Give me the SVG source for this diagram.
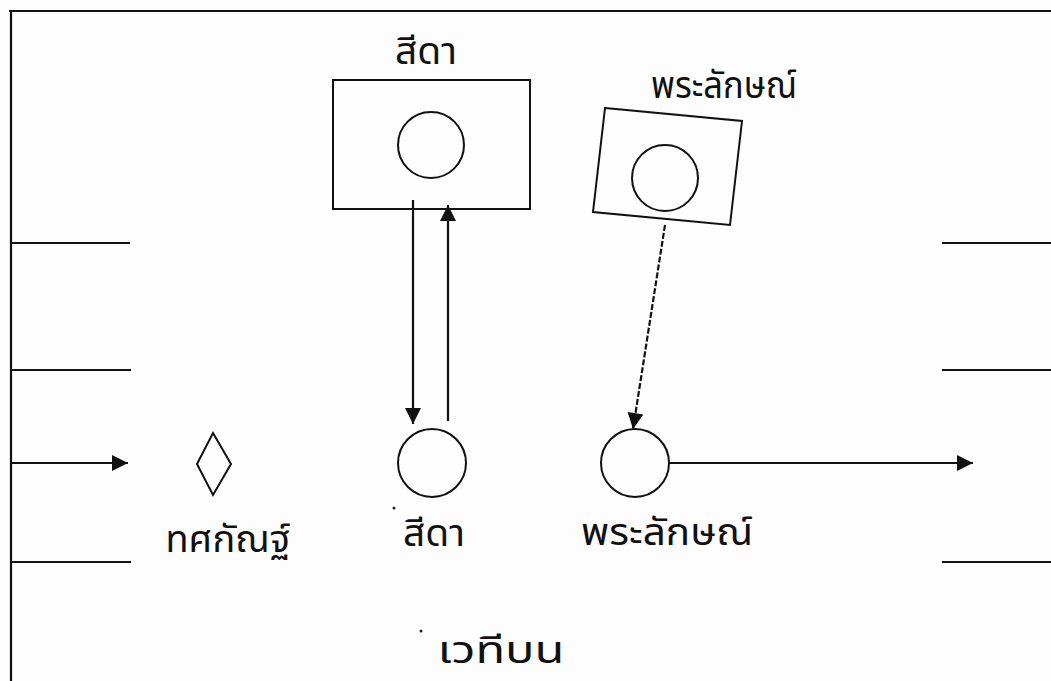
<svg xmlns="http://www.w3.org/2000/svg" width="1051" height="681" viewBox="0 0 1051 681">
  <style>
    .ln { stroke: #111; stroke-width: 2.2; fill: none; }
    .shape { stroke: #111; stroke-width: 2; fill: none; }
    .lbl { font-family: "Noto Sans Thai", "Noto Sans", "DejaVu Sans", sans-serif; font-size: 37px; fill: #111; text-anchor: middle; }
    .dot { fill: #222; }
  </style>
  <defs>
    <marker id="arr" viewBox="0 0 10 10" refX="10" refY="5" markerWidth="22" markerHeight="16" markerUnits="userSpaceOnUse" orient="auto">
      <path d="M0,0 L10,5 L0,10 z" fill="#111"/>
    </marker>
  </defs>
  <rect width="1051" height="681" fill="#fdfdfd"/>

  <!-- stage frame and lanes -->
  <g id="frame">
    <path class="ln" d="M9,11 H1051 M11,11 V681"/>
    <path class="ln" d="M11,243 H130 M11,370 H131 M11,562 H131"/>
    <path class="ln" d="M942,243 H1051 M942,370 H1051 M942,562 H1051"/>
  </g>

  <g id="sida-top">
    <text class="lbl" x="426" y="64" textLength="62" lengthAdjust="spacingAndGlyphs">สีดา</text>
    <rect class="shape" x="333" y="80" width="197" height="129"/>
    <circle class="shape" cx="431" cy="145" r="33"/>
  </g>

  <g id="phralak-top">
    <text class="lbl" x="724" y="98" textLength="146" lengthAdjust="spacingAndGlyphs">พระลักษณ์</text>
    <polygon class="shape" points="605,108 742,121 730,225 593,212"/>
    <circle class="shape" cx="665" cy="178" r="33"/>
  </g>

  <g id="thotsakan">
    <polygon class="shape" points="213,433 231,464 213,495 197,464"/>
    <text class="lbl" x="228" y="552" textLength="125" lengthAdjust="spacingAndGlyphs">ทศกัณฐ์</text>
  </g>

  <g id="sida">
    <circle class="shape" cx="432" cy="463" r="34"/>
    <circle class="dot" cx="394" cy="508" r="1.5"/>
    <text class="lbl" x="434" y="546" textLength="62" lengthAdjust="spacingAndGlyphs">สีดา</text>
  </g>

  <g id="phralak">
    <circle class="shape" cx="635" cy="463" r="34"/>
    <text class="lbl" x="667" y="545" textLength="172" lengthAdjust="spacingAndGlyphs">พระลักษณ์</text>
  </g>

  <g id="stage-label">
    <circle class="dot" cx="421" cy="631" r="1.5"/>
    <text class="lbl" x="501" y="663" textLength="127" lengthAdjust="spacingAndGlyphs">เวทีบน</text>
  </g>

  <g id="connectors">
    <line class="ln" x1="11" y1="463" x2="128" y2="463" marker-end="url(#arr)"/>
    <line class="ln" x1="413" y1="200" x2="413" y2="424" marker-end="url(#arr)"/>
    <line class="ln" x1="448" y1="421" x2="448" y2="205" marker-end="url(#arr)"/>
    <line class="ln" x1="665" y1="225" x2="633" y2="429" stroke-dasharray="6 2" marker-end="url(#arr)"/>
    <line class="ln" x1="669" y1="463" x2="973" y2="463" marker-end="url(#arr)"/>
  </g>
</svg>
